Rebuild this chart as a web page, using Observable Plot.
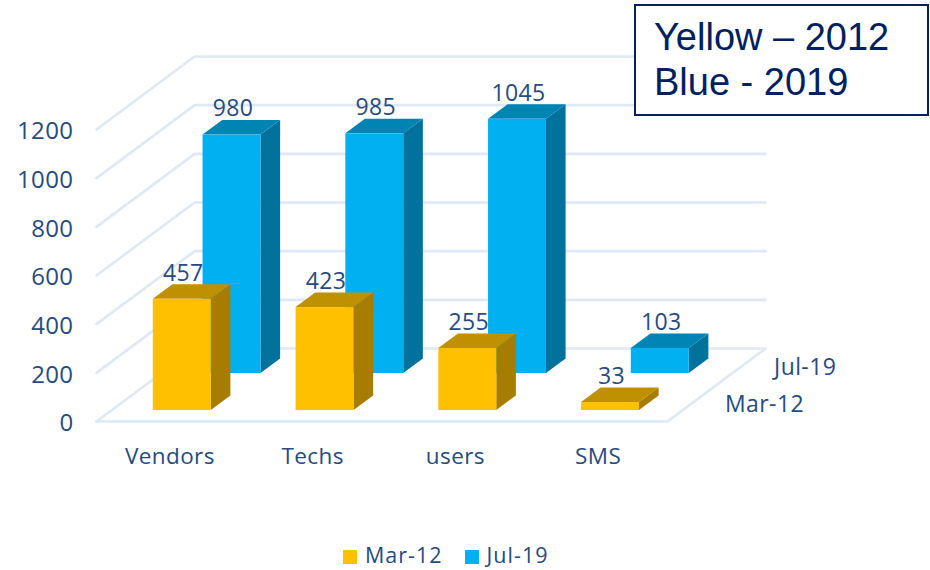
<!DOCTYPE html>
<html>
<head>
<meta charset="utf-8">
<script src="https://cdn.jsdelivr.net/npm/d3@7"></script>
<script src="https://cdn.jsdelivr.net/npm/@observablehq/plot@0.6"></script>
<style>
  html, body { margin: 0; padding: 0; background: #fff; width: 930px; height: 570px; overflow: hidden; }
  #wrap { position: relative; width: 930px; height: 570px; }
  #note { position: absolute; left: 634px; top: 4px; width: 291px; height: 108px; border: 2px solid #002060;
          box-sizing: content-box; background: #fff; color: #002060; font: 38px/45px "Liberation Sans", sans-serif; }
  #note div { margin-left: 18px; white-space: nowrap; }
  #note div:first-child { margin-top: 9px; }
  #legend { position: absolute; top: 543px; left: 343px; height: 24px; display: flex; align-items: center;
            color: #264b7f; font: 21.5px/24px "Open Sans", sans-serif; letter-spacing: 1px; }
  #legend i { display: inline-block; width: 14px; height: 14px; margin-right: 8px; position: relative; top: 2px; }
  #legend span { margin-right: 22px; }
  #chart svg { letter-spacing: 0.4px; }
</style>
</head>
<body>
<div id="wrap">
  <div id="chart"></div>
  <div id="legend"></div>
  <div id="note"><div>Yellow – 2012</div><div>Blue - 2019</div></div>
</div>
<script>
const categories = ["Vendors", "Techs", "users", "SMS"];
const mar12 = [457, 423, 255, 33];
const jul19 = [980, 985, 1045, 103];
const yTicks = [0, 200, 400, 600, 800, 1000, 1200];
const seriesNames = ["Mar-12", "Jul-19"];

const ink = "#264b7f";
const gridColor = "#dfe8f5";

// Oblique projection: depth z in [0,1] shifts a point along x and y data units.
const skewX = 0.687, skewY = 300;
const barStart = 0.295, barWidth = 0.406, barDepth = 0.2;

const seriesStyle = [
  {name: seriesNames[1], values: jul19, z: 0.657, front: "#00B0F0", side: "#00729C", top: "#0084B4"},
  {name: seriesNames[0], values: mar12, z: 0.15, front: "#FFC000", side: "#A67D00", top: "#BF9000"}
];

function barMarks(s) {
  const rows = s.values.map((v, i) => {
    const x0 = i + barStart + skewX * s.z, x1 = x0 + barWidth, base = skewY * s.z;
    return {i, v, x0, x1, base, top: base + v};
  });
  const dx = skewX * barDepth, dy = skewY * barDepth;
  const side = rows.flatMap(r => [
    {k: r.i, x: r.x1, y1: r.base, y2: r.top},
    {k: r.i, x: r.x1 + dx, y1: r.base + dy, y2: r.top + dy}
  ]);
  const top = rows.flatMap(r => [
    {k: r.i, y: r.top, x1: r.x0, x2: r.x1},
    {k: r.i, y: r.top + dy, x1: r.x0 + dx, x2: r.x1 + dx}
  ]);
  return [
    Plot.areaY(side, {x: "x", y1: "y1", y2: "y2", z: "k", fill: s.side}),
    Plot.areaX(top, {y: "y", x1: "x1", x2: "x2", z: "k", fill: s.top}),
    Plot.rect(rows, {x1: "x0", x2: "x1", y1: "base", y2: "top", fill: s.front})
  ];
}

function barLabels(s) {
  const dy = skewY * barDepth;
  return Plot.text(s.values, {
    x: (v, i) => i + barStart + skewX * s.z + barWidth / 2,
    y: v => v + skewY * s.z + dy,
    text: v => String(v),
    lineAnchor: "bottom", textAnchor: "middle", dx: 1, dy: -4,
    fontSize: 23, fill: ink, fontFamily: "Open Sans"
  });
}

// Walls and floor
const gridStroke = {stroke: gridColor, strokeWidth: 2.6};
const wallLines = yTicks.map(v => Plot.line(
  [[0, v], [skewX, v + skewY], [4 + skewX, v + skewY]], gridStroke));
const floorEdge = Plot.line([[0, 0], [4, 0], [4 + skewX, skewY]], gridStroke);

const depthLabels = Plot.text([
  {name: seriesNames[0], z: 0.25},
  {name: seriesNames[1], z: 0.75}
], {
  x: d => 4 + skewX * d.z, y: d => skewY * d.z, text: "name",
  textAnchor: "start", dx: 33, dy: 1, fontSize: 23, fill: ink, fontFamily: "Open Sans"
});

const chart = Plot.plot({
  width: 930, height: 530,
  marginLeft: 96, marginRight: 263, marginTop: 129, marginBottom: 109,
  style: {background: "transparent", fontFamily: "Open Sans"},
  x: {domain: [0, 4]},
  y: {domain: [0, 1200]},
  marks: [
    ...wallLines,
    floorEdge,
    ...seriesStyle.flatMap(barMarks),
    ...seriesStyle.map(barLabels),
    depthLabels,
    Plot.axisY({
      ticks: yTicks, tickSize: 0, tickPadding: 23, label: null, dy: 2,
      fontSize: 24, color: ink, tickFormat: d => String(d)
    }),
    Plot.axisX({
      ticks: categories.map((c, i) => i + 0.5), tickSize: 0, tickPadding: 27, label: null, dx: 2,
      fontSize: 22.5, color: ink, tickFormat: d => categories[Math.floor(d)]
    })
  ]
});
document.getElementById("chart").append(chart);

const legend = document.getElementById("legend");
[[seriesNames[0], "#FFC000"], [seriesNames[1], "#00B0F0"]].forEach(([name, color]) => {
  const sw = document.createElement("i");
  sw.style.background = color;
  const label = document.createElement("span");
  label.textContent = name;
  legend.append(sw, label);
});
</script>
</body>
</html>
